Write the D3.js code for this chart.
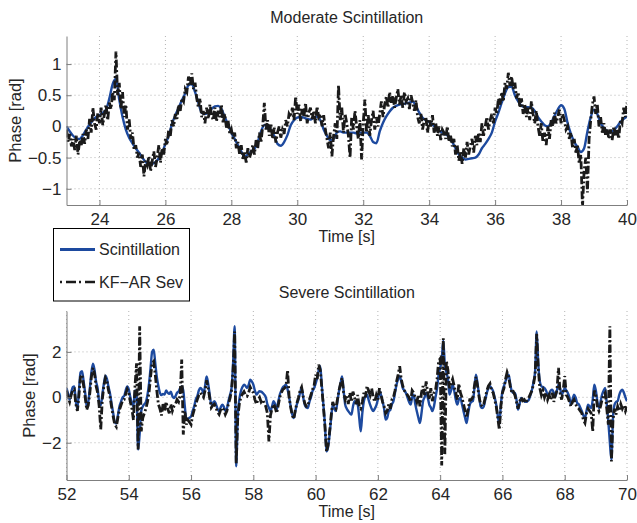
<!DOCTYPE html>
<html>
<head>
<meta charset="utf-8">
<script src="https://cdn.jsdelivr.net/npm/d3@7"></script>
<style>
  body { margin: 0; background: #fff; }
  svg text { font-family: "Liberation Sans", Arial, Helvetica, sans-serif; fill: #262626; }
  .grid { stroke: #b4b4b4; stroke-width: 1; stroke-dasharray: 1,3; }
  .axis path, .axis line { stroke: #7f7f7f; }
</style>
</head>
<body>
<div class="graph"></div>
<script>
// moderate case: blue sampled every 0.1 s, black every 0.05 s, starting at 23 s
var modStart = 23, modEnd = 40;
var modTicksX = [24, 26, 28, 30, 32, 34, 36, 38, 40];
var modTicksY = [-1, -0.5, 0, 0.5, 1];
var modScint = [
  0.0,-0.08,-0.15,-0.19,-0.2,-0.14,-0.05,0.03,0.1,0.15,
  0.18,0.22,0.27,0.45,0.68,0.76,0.43,0.15,-0.05,-0.18,
  -0.27,-0.35,-0.42,-0.5,-0.57,-0.61,-0.6,-0.57,-0.51,-0.42,
  -0.28,-0.15,0.04,0.18,0.3,0.42,0.53,0.66,0.68,0.55,
  0.38,0.22,0.2,0.22,0.28,0.32,0.33,0.28,0.15,0.03,
  -0.1,-0.2,-0.3,-0.4,-0.48,-0.45,-0.4,-0.36,-0.25,-0.08,
  0.02,0.02,-0.06,-0.15,-0.28,-0.31,-0.25,-0.14,0.02,0.1,
  0.14,0.15,0.14,0.12,0.11,0.14,0.16,0.1,-0.05,-0.15,
  -0.22,-0.2,-0.1,-0.08,-0.1,-0.1,-0.1,-0.1,-0.11,-0.1,
  -0.1,-0.1,-0.15,-0.25,-0.27,-0.08,0.06,0.16,0.24,0.3,
  0.33,0.35,0.36,0.37,0.38,0.4,0.33,0.22,0.14,0.1,
  0.07,0.03,-0.02,-0.07,-0.1,-0.13,-0.16,-0.25,-0.35,-0.45,
  -0.5,-0.53,-0.52,-0.51,-0.5,-0.45,-0.35,-0.28,-0.2,-0.1,
  0.08,0.22,0.38,0.53,0.63,0.64,0.5,0.4,0.33,0.31,
  0.31,0.3,0.25,0.15,0.08,0.02,0.0,0.06,0.17,0.27,
  0.34,0.28,0.05,-0.12,-0.25,-0.33,-0.41,-0.35,-0.08,0.15,
  0.27,0.2,0.05,-0.02,-0.08,-0.1,-0.06,0.0,0.07,0.12,
  0.16
];
var modKf = [
  -0.05,-0.25,-0.12,-0.32,-0.2,-0.38,-0.15,-0.45,-0.22,-0.3,
  -0.12,-0.28,-0.05,-0.2,0.12,-0.1,0.3,0.05,-0.05,0.22,
  0.05,0.3,0.02,0.2,0.35,0.1,0.38,0.28,0.55,0.42,
  1.2,0.5,0.7,0.28,0.55,0.15,0.35,-0.05,0.12,-0.2,
  -0.1,-0.38,-0.3,-0.5,-0.42,-0.65,-0.45,-0.8,-0.55,-0.62,
  -0.48,-0.72,-0.55,-0.4,-0.65,-0.5,-0.3,-0.58,-0.35,-0.45,
  -0.2,-0.3,-0.05,-0.15,0.1,0.0,0.2,0.12,0.35,0.25,
  0.45,0.4,0.6,0.55,0.8,0.65,0.85,0.6,0.7,0.45,
  0.3,0.45,0.15,0.25,0.05,0.3,0.12,0.35,0.18,0.1,
  0.3,0.08,0.25,0.15,0.35,0.05,0.2,-0.02,0.1,-0.12,
  -0.05,-0.2,-0.1,-0.35,-0.25,-0.45,-0.3,-0.52,-0.4,-0.58,
  -0.35,-0.5,-0.42,-0.3,-0.45,-0.22,-0.35,-0.1,-0.25,0.0,
  0.38,-0.05,0.1,-0.15,0.05,-0.2,-0.02,-0.26,-0.1,0.0,
  -0.18,-0.05,-0.12,0.1,0.0,0.2,0.15,0.3,0.1,0.48,
  0.2,0.35,0.08,0.28,0.15,0.38,0.05,0.22,0.3,0.12,
  0.25,0.05,0.32,0.15,0.2,0.0,0.18,-0.05,-0.2,-0.35,
  -0.1,-0.48,-0.15,0.05,-0.2,0.66,0.1,0.3,-0.1,0.2,
  0.05,-0.15,-0.5,0.15,-0.05,0.25,0.0,-0.2,0.1,-0.53,
  0.05,0.43,-0.1,0.2,-0.15,0.1,0.25,-0.05,0.15,0.0,
  0.2,0.4,0.15,0.35,0.48,0.3,0.55,0.38,0.5,0.3,
  0.45,0.6,0.35,0.5,0.3,0.55,0.4,0.45,0.28,0.5,
  0.38,0.25,0.42,0.15,0.05,0.2,-0.05,0.1,0.15,-0.1,
  0.12,0.0,0.18,-0.1,0.05,-0.15,0.0,-0.22,-0.05,-0.1,
  -0.2,0.0,-0.25,-0.15,-0.32,-0.2,-0.45,-0.3,-0.55,-0.4,
  -0.6,-0.35,-0.5,-0.25,-0.45,-0.3,-0.2,-0.42,-0.15,-0.3,
  -0.1,-0.25,0.05,-0.15,0.0,0.15,-0.05,0.1,0.2,0.05,
  0.3,0.2,0.45,0.35,0.55,0.4,0.7,0.6,0.86,0.65,
  0.8,0.6,0.7,0.45,0.55,0.3,0.45,0.2,0.35,0.15,
  0.3,0.1,0.4,0.2,0.05,0.25,0.0,-0.15,0.05,-0.25,
  -0.1,-0.3,0.0,-0.2,0.1,0.0,0.22,0.05,0.15,0.27,
  0.05,0.2,0.1,-0.05,0.0,-0.2,-0.1,-0.35,-0.2,-0.42,
  -0.3,-0.6,-0.45,-1.3,-0.7,-0.5,-1.06,-0.2,0.1,0.35,
  0.48,0.2,0.35,0.0,0.15,-0.1,0.05,-0.15,-0.05,-0.2,
  -0.05,-0.22,0.0,-0.15,-0.05,-0.2,0.1,0.05,0.3,0.15,
  0.38
];

// severe case: both series every 0.05 s, starting at 52 s
var sevStart = 52, sevEnd = 70;
var sevTicksX = [52, 54, 56, 58, 60, 62, 64, 66, 68, 70];
var sevTicksY = [-2, 0, 2];
var sevScint = [
  0.41,0.15,-0.1,0.2,0.45,0.48,-0.2,-0.5,0.3,1.1,
  1.15,0.7,0.2,-0.4,-0.2,0.4,1.1,1.48,1.2,0.7,
  0.4,-0.2,-0.35,0.1,0.6,0.95,0.8,0.45,0.15,-0.3,
  -0.7,-1.1,-1.15,-0.8,-0.4,-0.2,0.0,0.05,0.3,0.48,
  0.35,0.0,-0.25,-0.4,0.3,0.1,-2.3,-1.6,-0.6,-0.4,
  -0.3,-0.2,0.1,0.6,1.3,2.0,2.1,1.5,0.9,0.5,
  0.2,0.1,0.15,0.12,0.3,0.2,0.15,0.25,0.05,-0.03,
  0.05,0.2,0.26,0.4,0.48,0.3,-0.4,-0.98,-0.95,-0.9,
  -0.84,-0.6,-0.4,-0.1,0.05,0.3,0.41,0.35,0.19,0.5,
  0.92,0.6,0.1,-0.32,-0.25,-0.17,-0.3,-0.5,-0.61,-0.45,
  -0.32,-0.4,-0.6,-0.5,-0.17,0.1,0.41,1.5,3.13,-3.04,
  -0.8,-0.1,0.27,0.45,0.56,0.5,0.41,0.55,0.78,0.7,
  0.56,0.3,0.12,0.2,0.27,0.25,0.2,0.12,0.0,-0.3,
  -0.45,-0.61,-0.4,-0.17,-0.3,-0.54,-0.2,0.12,0.3,0.45,
  0.5,0.56,0.35,0.0,-0.4,-0.75,-0.91,-0.6,-0.3,-0.1,
  0.2,0.41,0.0,-0.32,-0.45,-0.47,-0.2,0.0,0.27,0.4,
  0.6,0.85,1.2,1.37,0.5,-0.32,-1.2,-2.38,-2.2,-1.64,
  -0.9,-0.32,-0.5,-0.61,-0.2,0.27,0.6,0.92,0.3,-0.32,
  -0.5,-0.61,-0.7,-0.76,-0.4,-0.17,-0.25,-0.32,-0.9,-1.5,
  -0.7,-0.17,0.05,0.12,-0.1,-0.32,-0.5,-0.61,-0.5,-0.35,
  -0.1,0.27,0.1,-0.17,-0.5,-0.98,-0.9,-0.61,-0.55,-0.3,
  -0.17,0.2,0.56,0.8,0.93,0.7,0.41,0.3,0.19,0.0,
  -0.2,-0.32,0.0,0.12,-0.3,-0.61,-0.9,-1.13,-0.7,-0.17,
  0.0,0.19,0.0,-0.32,-0.45,-0.61,-0.4,0.0,0.4,1.0,
  1.3,1.66,2.5,1.44,1.1,0.8,0.12,0.3,0.56,0.3,
  -0.1,-0.32,-0.1,-0.03,-0.3,-0.61,-0.9,-1.13,-0.7,-0.32,
  -0.2,-0.17,0.4,1.0,0.6,0.1,-0.4,-0.47,-0.4,-0.1,
  0.2,0.4,0.49,0.4,0.27,0.0,-0.32,-0.8,-1.2,-0.3,
  0.27,0.5,0.71,0.9,1.0,0.6,0.27,0.2,0.19,-0.1,
  -0.54,-0.3,-0.03,-0.1,-0.17,-0.2,-0.17,-0.1,0.1,0.34,
  0.7,1.15,2.9,1.5,0.7,0.49,0.45,0.41,0.3,0.12,
  0.15,0.3,0.34,0.2,0.04,0.3,0.56,0.4,0.12,0.25,
  0.41,0.3,0.19,0.0,-0.32,-0.1,0.12,0.0,-0.25,-0.3,
  -0.45,-0.61,-0.8,-0.91,-0.6,-0.32,-0.4,-0.47,-0.1,0.56,
  0.3,-0.2,-0.47,-0.2,0.12,0.3,0.41,-0.3,-1.06,-2.0,
  -2.75,-0.9,-0.32,-0.2,-0.17,0.1,0.27,0.34,0.2,0.0,
  -0.17
];
var sevKf = [
  0.3,0.0,-0.2,0.1,0.3,0.35,-0.3,-0.6,0.1,0.9,
  1.0,0.5,0.0,-0.55,-0.35,0.2,0.9,1.3,1.05,0.5,
  0.2,-0.4,-1.42,-0.1,0.5,0.85,0.7,0.3,0.0,-0.45,
  -0.85,-1.2,-1.3,-0.9,-0.55,-0.35,-0.15,-0.1,0.15,0.35,
  0.2,-0.2,-0.5,-1.0,0.5,1.5,-2.3,3.13,-1.5,-0.9,
  -0.7,-0.5,-0.2,0.2,0.9,1.5,1.58,1.0,0.3,-0.3,
  -0.5,-0.8,-0.3,-0.6,-0.2,-0.5,-0.7,-0.3,-0.6,-0.4,
  -0.3,-0.1,-0.2,0.1,1.66,-1.64,-0.6,-1.2,-1.0,-1.1,
  -1.2,-0.8,-0.55,-0.3,-0.1,0.1,0.2,0.1,0.0,0.3,
  0.75,0.4,-0.05,-0.45,-0.35,-0.3,-0.45,-0.65,-0.75,-0.55,
  -0.45,-0.55,-0.75,-0.6,-0.3,-0.05,0.3,1.2,2.9,-2.9,
  -0.9,-0.3,0.0,0.15,0.25,0.1,0.05,0.2,0.45,0.3,
  0.2,-0.1,-0.3,-0.1,0.0,-0.2,-0.1,-0.25,-0.4,-0.7,
  -1.94,-0.8,-0.5,-0.3,-0.45,-0.7,-0.35,0.0,0.2,0.35,
  0.4,0.5,1.2,0.0,-0.45,-0.8,-0.95,-0.55,-0.25,0.0,
  0.3,0.45,0.05,-0.25,-0.4,-0.4,-0.1,0.1,0.35,0.5,
  1.0,0.8,1.44,1.2,0.4,-0.4,-1.3,-2.4,-2.1,-1.5,
  -0.8,-0.2,-0.4,-0.5,-0.1,0.3,0.6,0.85,0.2,-0.1,
  0.1,-0.3,0.2,-0.2,0.25,0.0,-0.3,0.1,-0.4,-0.5,
  -0.2,0.2,0.0,0.5,0.3,0.1,0.4,0.0,-0.2,0.1,
  -0.1,0.4,0.1,-0.2,-0.4,-0.7,-0.6,-0.3,-0.5,-0.1,
  0.0,0.3,0.7,1.0,1.37,0.8,0.5,0.3,0.2,0.1,
  0.0,-0.2,0.3,0.2,0.0,-0.2,0.1,-0.4,0.2,0.5,
  0.1,0.7,0.2,-0.1,0.4,-0.17,0.2,0.3,0.8,1.6,
  1.7,-3.0,2.6,-2.5,1.6,1.2,0.4,0.6,0.8,0.5,
  0.2,-0.1,0.6,0.2,0.0,-0.3,-0.6,-0.9,-0.5,-0.1,
  -0.1,0.0,0.5,0.9,0.5,0.0,-0.3,-0.4,-0.3,0.0,
  0.3,0.5,0.6,0.3,0.2,-0.1,-0.4,-0.9,-1.43,-0.4,
  0.2,0.4,0.8,1.1,0.9,0.5,0.2,0.25,0.1,-0.2,
  -0.5,-0.2,0.0,-0.15,-0.1,-0.25,-0.1,0.0,0.15,0.3,
  0.6,1.0,2.8,1.3,0.4,0.1,0.3,0.0,0.2,-0.1,
  0.1,-0.1,0.2,-0.2,0.1,0.3,1.3,0.2,-0.1,0.3,
  0.93,0.1,0.0,-0.2,-0.4,-0.2,-0.1,-0.3,-0.45,-0.5,
  -0.6,-0.7,-1.0,-1.13,-0.7,-0.5,-0.6,-0.7,-1.5,0.3,
  0.1,-0.4,-0.6,-0.4,-0.1,0.1,0.2,-0.5,-1.2,3.13,
  -2.82,-1.0,-0.5,-0.76,-0.4,-0.6,-0.3,-0.5,-0.35,-0.6,
  -0.4
];

var legendLabels = ['Scintillation', 'KF\u2212AR Sev'];
var blue = '#1d4a9f', black = '#1a1a1a';

var svgW = 637, svgH = 523;
var left = 66.5, width = 560.5, height = 169;

var svg = d3.select('.graph').append('svg')
    .attr('width', svgW)
    .attr('height', svgH);

var fmt = d3.format('');

function toPoints(vals, start, step) {
  return vals.map(function(v, i) { return [start + i * step, v]; });
}

function drawPanel(p) {
  var g = svg.append('g')
      .attr('transform', 'translate(' + left + ',' + p.top + ')');

  var x = d3.scaleLinear().domain(p.xDomain).range([0, width]);
  var y = d3.scaleLinear().domain(p.yDomain).range([height, 0]);

  // dotted grid
  g.append('g').selectAll('line')
      .data(p.xTicks)
    .enter().append('line')
      .attr('class', 'grid')
      .attr('x1', function(d) { return x(d); })
      .attr('x2', function(d) { return x(d); })
      .attr('y1', 0)
      .attr('y2', height);
  g.append('g').selectAll('line')
      .data(p.yTicks)
    .enter().append('line')
      .attr('class', 'grid')
      .attr('x1', 0)
      .attr('x2', width)
      .attr('y1', function(d) { return y(d); })
      .attr('y2', function(d) { return y(d); });

  g.append('clipPath').attr('id', p.id)
    .append('rect')
      .attr('x', 0).attr('y', 0)
      .attr('width', width).attr('height', height);

  var line = d3.line()
      .x(function(d) { return x(d[0]); })
      .y(function(d) { return y(d[1]); });

  var lines = g.append('g').attr('clip-path', 'url(#' + p.id + ')');

  lines.append('path')
      .datum(toPoints(p.scint, p.xDomain[0], p.scintStep))
      .attr('fill', 'none')
      .attr('stroke', blue)
      .attr('stroke-width', 2.4)
      .attr('stroke-linejoin', 'round')
      .attr('d', line.curve(d3.curveMonotoneX));

  lines.append('path')
      .datum(toPoints(p.kf, p.xDomain[0], p.kfStep))
      .attr('fill', 'none')
      .attr('stroke', black)
      .attr('stroke-width', 2.8)
      .attr('stroke-dasharray', '8,2.5,2,2.5')
      .attr('d', line.curve(d3.curveLinear));

  var xAxis = d3.axisBottom(x)
      .tickValues(p.xTicks)
      .tickFormat(fmt)
      .tickSizeInner(-5)
      .tickSizeOuter(0)
      .tickPadding(p.xPad);

  var yAxis = d3.axisLeft(y)
      .tickValues(p.yTicks)
      .tickFormat(fmt)
      .tickSizeInner(-5)
      .tickSizeOuter(0)
      .tickPadding(5);

  g.append('g')
      .attr('class', 'x axis')
      .attr('transform', 'translate(0,' + height + ')')
      .call(xAxis);

  g.append('g')
      .attr('class', 'y axis')
      .call(yAxis);

  g.selectAll('.axis text')
      .style('font-size', '17px');

  g.append('text')
      .attr('x', width / 2)
      .attr('y', -19)
      .attr('dy', '0.35em')
      .attr('text-anchor', 'middle')
      .style('font-size', '16px')
      .text(p.title);

  g.append('text')
      .attr('x', width / 2)
      .attr('y', height + 31.5)
      .attr('dy', '0.35em')
      .attr('text-anchor', 'middle')
      .style('font-size', '16px')
      .text('Time [s]');

  g.append('text')
      .attr('transform', 'translate(' + (p.yLabelX - left) + ',' + (height / 2) + ') rotate(-90)')
      .attr('dy', '0.35em')
      .attr('text-anchor', 'middle')
      .style('font-size', '16.5px')
      .text('Phase [rad]');
}

drawPanel({
  id: 'clipMod',
  top: 36,
  title: 'Moderate Scintillation',
  xDomain: [modStart, modEnd],
  yDomain: [-1.26, 1.45],
  xTicks: modTicksX,
  yTicks: modTicksY,
  scint: modScint, scintStep: 0.1,
  kf: modKf, kfStep: 0.05,
  xPad: 8,
  yLabelX: 15
});

drawPanel({
  id: 'clipSev',
  top: 311,
  title: 'Severe Scintillation',
  xDomain: [sevStart, sevEnd],
  yDomain: [-3.64, 3.8],
  xTicks: sevTicksX,
  yTicks: sevTicksY,
  scint: sevScint, scintStep: 0.05,
  kf: sevKf, kfStep: 0.05,
  xPad: 8,
  yLabelX: 29.5
});

// legend box
var legend = svg.append('g').attr('class', 'legend');

legend.append('rect')
    .attr('x', 53.5)
    .attr('y', 228.5)
    .attr('width', 136)
    .attr('height', 72.5)
    .attr('fill', '#fff')
    .attr('stroke', '#000')
    .attr('stroke-width', 1);

var item = legend.selectAll('.item')
    .data(legendLabels)
  .enter().append('g')
    .attr('class', 'item')
    .attr('transform', function(d, i) { return 'translate(0,' + (249.5 + i * 32.5) + ')'; });

item.append('line')
    .attr('x1', 60)
    .attr('x2', 95)
    .attr('stroke', function(d, i) { return i === 0 ? blue : black; })
    .attr('stroke-width', function(d, i) { return i === 0 ? 3 : 2.6; })
    .attr('stroke-dasharray', function(d, i) { return i === 0 ? null : '2,4,10,3'; });

item.append('text')
    .attr('x', 99)
    .attr('dy', '0.35em')
    .style('font-size', '16px')
    .text(function(d) { return d; });
</script>
</body>
</html>
